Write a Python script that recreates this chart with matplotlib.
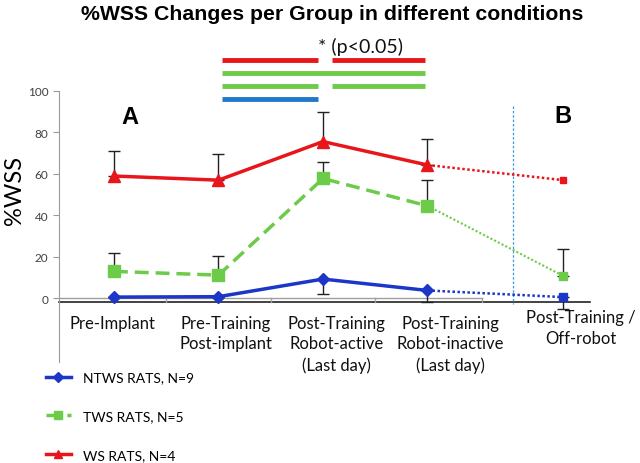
import matplotlib
matplotlib.use("Agg")
import matplotlib.pyplot as plt

plt.rcParams['font.family'] = ['Lato', 'DejaVu Sans']

categories = ["Pre-Implant", "Pre-Training\nPost-implant", "Post-Training\nRobot-active\n(Last day)",
              "Post-Training\nRobot-inactive\n(Last day)"]
b_label = "Post-Training /\nOff-robot"
x_cat = [0, 1, 2, 3]
x_lab = [-0.01, 1.07, 2.13, 3.22]
x_b = 4.3
x_b_lab = 4.47
x_sep = 3.82

ws = [59, 57, 75.6, 64.3]
ws_err_up = [12.3, 12.6, 14.5, 12.4]
ws_b = 57.0

tws = [13, 11.2, 57.8, 44.6]
tws_err_up = [8.8, 9.3, 8.0, 12.5]
tws_b = 10.8
tws_b_err_up = 12.9

ntws = [0.6, 0.8, 9.3, 3.8]
ntws_err_dn = [0, 0, 7.0, 5.6]
ntws_b = 0.6
ntws_b_err_dn = 5.7

c_red = "#e8161b"
c_green = "#6ccb48"
c_blue = "#1c36c8"

fig = plt.figure(figsize=(6.4, 4.64), dpi=100)
ax = fig.add_axes([59/640, 1-363/464, 531/640, (363-92)/464])
ax.set_xlim(-0.526, 4.555)
ax.set_ylim(-30.7, 100)

for s in ['top', 'right', 'bottom']:
    ax.spines[s].set_visible(False)
ax.spines['left'].set_color('#9a9a9a')
ax.set_yticks([0, 20, 40, 60, 80, 100])
ax.tick_params(axis='y', colors='#404040', labelsize=8.5, length=4, color='#9a9a9a')
ax.set_xticks([])

# baseline box
ax.plot([-0.526, 3.52], [0, 0], color='#a0a0a0', lw=1, clip_on=False)
ax.plot([-0.526, 4.555], [-1.6, -1.6], color='#222222', lw=1.2, clip_on=False)
for xs in [0.5, 1.5, 2.5, 3.52]:
    ax.plot([xs, xs], [0, -1.6], color='#a0a0a0', lw=1)

# separator
ax.plot([x_sep, x_sep], [92.6, -2.7], color='#3a9ad9', lw=0.9, ls=(0, (2, 1.5)))

# error bars
ax.errorbar(x_cat, ws, yerr=[[0]*4, ws_err_up], fmt='none', ecolor='#222222', elinewidth=1, capsize=4, zorder=2)
ax.errorbar(x_cat, tws, yerr=[[0]*4, tws_err_up], fmt='none', ecolor='#222222', elinewidth=1, capsize=4, zorder=2)
ax.errorbar([x_b], [tws_b], yerr=[[0], [tws_b_err_up]], fmt='none', ecolor='#222222', elinewidth=1, capsize=4, zorder=2)
ax.errorbar(x_cat[2:], ntws[2:], yerr=[ntws_err_dn[2:], [0, 0]], fmt='none', ecolor='#222222', elinewidth=1, capsize=4, zorder=2)
ax.errorbar([x_b], [ntws_b], yerr=[[ntws_b_err_dn], [0]], fmt='none', ecolor='#222222', elinewidth=1, capsize=4, zorder=2)

# lines
l_ntws, = ax.plot(x_cat, ntws, color=c_blue, lw=2.5, marker='D', ms=6, zorder=4, label="NTWS RATS, N=9")
l_tws, = ax.plot(x_cat, tws, color=c_green, lw=2.5, ls=(0, (4, 2)), marker='s', ms=8, zorder=4, label="TWS RATS, N=5")
l_ws, = ax.plot(x_cat, ws, color=c_red, lw=2.5, marker='^', ms=8, zorder=4, label="WS RATS, N=4")

ax.plot([x_cat[3], x_b], [ntws[3], ntws_b], color=c_blue, lw=1.8, ls=(0, (1, 1)), zorder=3)
ax.plot([x_cat[3], x_b], [tws[3], tws_b], color=c_green, lw=1.5, ls=(0, (1, 1)), zorder=3)
ax.plot([x_cat[3], x_b], [ws[3], ws_b], color=c_red, lw=1.8, ls=(0, (1, 1)), zorder=3)
ax.plot([x_b], [ntws_b], marker='s', color=c_blue, ms=6, zorder=5)
ax.plot([x_b], [tws_b], marker='s', color=c_green, ms=6, zorder=5)
ax.plot([x_b], [ws_b], marker='s', color=c_red, ms=5, zorder=5)

# significance bars
sig = [
    (c_red, 115.0, [(1.03, 1.95), (2.09, 2.98)]),
    (c_green, 108.6, [(1.03, 2.98)]),
    (c_green, 102.4, [(1.03, 1.95), (2.09, 2.98)]),
    ("#1f78c8", 96.0, [(1.03, 1.95)]),
]
for col, yv, segs in sig:
    for a, b in segs:
        ax.plot([a, b], [yv, yv], color=col, lw=3.5, solid_capstyle='butt', clip_on=False)
ax.text(1.95, 121.5, "* (p<0.05)", fontsize=14, ha='left', va='center', color='#111111')

ax.text(0.15, 87.5, "A", fontsize=17, fontweight='bold', ha='center', va='center', family='Liberation Sans')
ax.text(4.3, 88, "B", fontsize=17, fontweight='bold', ha='center', va='center', family='Liberation Sans')

for xc, lab in zip(x_lab, categories):
    ax.text(xc, -8.0, lab, ha='center', va='top', fontsize=12, linespacing=1.35, color='#111111')
ax.text(x_b_lab, -5.2, b_label, ha='center', va='top', fontsize=12, linespacing=1.35, color='#111111')

fig.text(14/640, 1-190/464, "%WSS", rotation=90, ha='center', va='center', fontsize=17)

fig.text(332/640, 1-14/464, "%WSS Changes per Group in different conditions", ha='center', va='center',
         fontsize=15.3, fontweight='bold', family='Liberation Sans')

fig.legend(handles=[l_ntws, l_tws, l_ws], loc='upper left', bbox_to_anchor=(0.052, 1-360/464),
           frameon=False, fontsize=10, labelspacing=1.92, handlelength=1.8, handletextpad=0.86,
           markerscale=0.8)

fig.savefig("out.png", dpi=100)
